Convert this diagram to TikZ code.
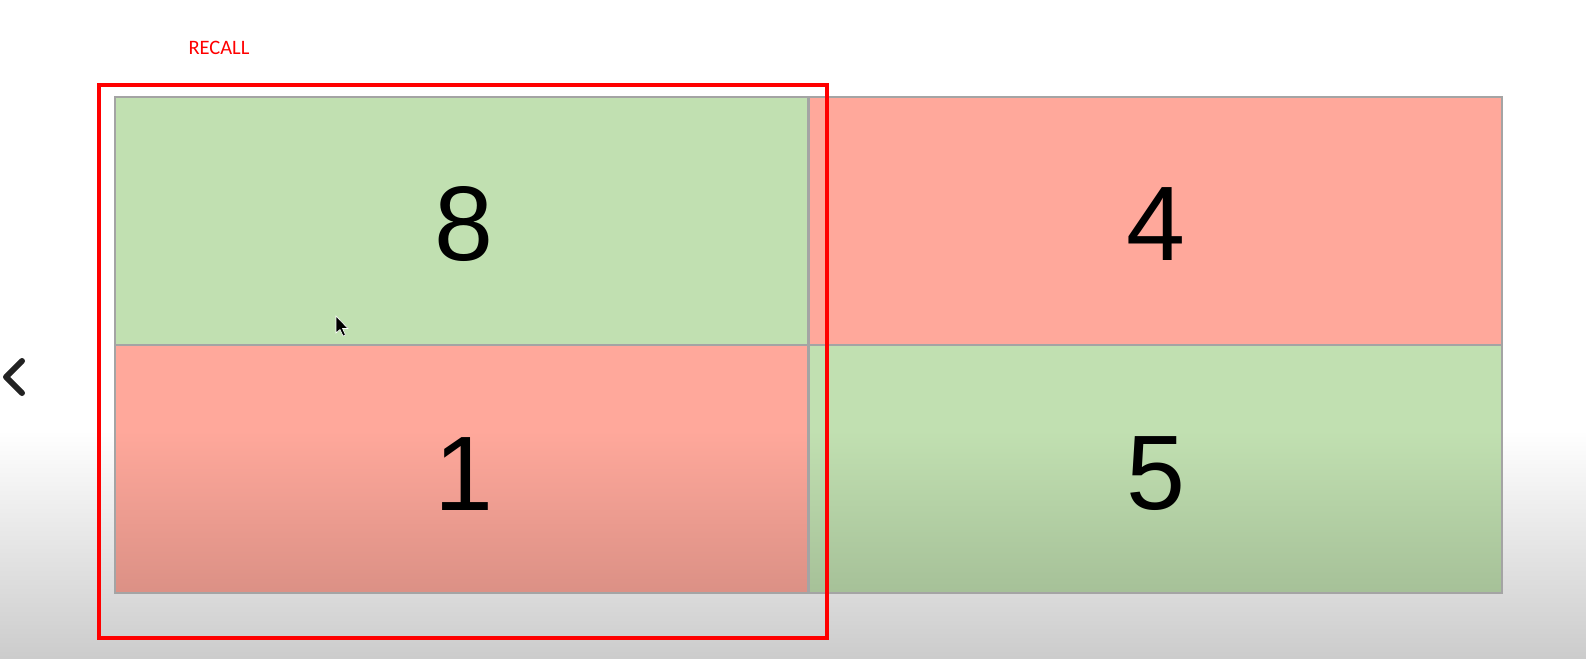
\documentclass[tikz,border=0pt]{standalone}
\usepackage{fontspec}
\setmainfont{Liberation Sans}
\newfontfamily\labelfont{Carlito}
\definecolor{cellgreen}{HTML}{C1E0B1}
\definecolor{cellred}{HTML}{FFA89B}
\definecolor{cellborder}{HTML}{A4A4A4}
\definecolor{chev}{HTML}{222222}
\tikzset{
  cell/.style={rectangle, draw=cellborder, line width=2pt, inner sep=0pt, outer sep=0pt, minimum width=693pt, minimum height=248pt},
  digit/.style={inner sep=0pt, font=\fontsize{106}{106}\selectfont, text=black},
}
\begin{document}
\begin{tikzpicture}[x=1pt,y=-1pt]
\useasboundingbox (0,0) rectangle (1586,658);
% background with bottom shadow
\fill[white] (0,0) rectangle (1586,431);
\shade[top color=white, bottom color=white!80!black] (0,430) rectangle (1586,658);
% cells
\node[cell, fill=cellgreen] (c8) at (461.5,221) {};
\node[cell, fill=cellred]   (c4) at (1155,221) {};
\node[cell, fill=cellred]   (c1) at (461.5,469) {};
\node[cell, fill=cellgreen] (c5) at (1155,469) {};
\shade[top color=cellred, bottom color=cellred!86!black] (c1.west |- 0,430) rectangle (c1.south east);
\shade[top color=cellgreen, bottom color=cellgreen!86!black] (c5.west |- 0,430) rectangle (c5.south east);
\draw[cellborder, line width=2pt] (c1.north west) rectangle (c1.south east);
\draw[cellborder, line width=2pt] (c5.north west) rectangle (c5.south east);
\node[digit] (d8) at (464,224) {8};
\node[digit] (d4) at (1156,224) {4};
\node[digit] (d1) at (464,474) {1};
\node[digit] (d5) at (1156,474) {5};
% mouse cursor
\fill[black, draw=white, line width=0.6pt] (336,316) -- (336,333) -- (340,329.5) -- (343,336) -- (345.5,335) -- (342.5,328.5) -- (348,328.5) -- cycle;
% chevron
\draw[chev, line width=6pt, line cap=round, line join=round] (22,361) -- (6,377) -- (22,393);
% red annotation
\node[rectangle, draw=red, line width=4pt, inner sep=0pt, minimum width=728pt, minimum height=553pt] (box) at (463,361.5) {};
\node[text=red, font=\labelfont\fontsize{20.5}{20.5}\selectfont, inner sep=0pt] (recall) at (219,48) {RECALL};
\end{tikzpicture}
\end{document}
